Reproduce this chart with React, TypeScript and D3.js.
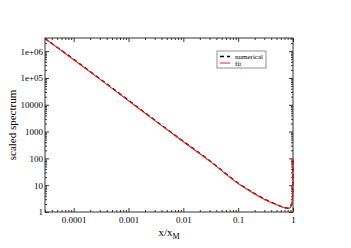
import React, { useEffect, useRef } from 'react';
import * as d3 from 'd3';

// x/x_M sample positions (log spaced, dense near x = 1)
const xValues = [3e-5, 1e-4, 3.16e-4, 1e-3, 3.16e-3, 0.01, 0.0316, 0.1, 0.2, 0.316, 0.5, 0.63, 0.8, 0.89, 0.93, 0.965, 0.985, 0.993, 0.997, 0.999, 1.0];
const numericalValues = [2.95e6, 5.0e5, 8.7e4, 1.48e4, 2500, 435, 77, 12.0, 4.9, 2.9, 1.92, 1.58, 1.4, 1.47, 1.9, 2.7, 4.2, 8.5, 21, 47, 100];
const fitValues = [2.95e6, 4.8e5, 8.3e4, 1.41e4, 2400, 417, 74, 11.5, 4.7, 2.8, 1.86, 1.55, 1.38, 1.45, 1.86, 2.6, 4.0, 8.0, 20, 45, 100];

const xTickValues = [1e-4, 1e-3, 1e-2, 1e-1, 1];
const xTickLabels = ["0.0001", "0.001", "0.01", "0.1", "1"];
const yTickValues = [1, 10, 100, 1000, 10000, 1e5, 1e6];
const yTickLabels = ["1", "10", "100", "1000", "10000", "1e+05", "1e+06"];

const width = 351;
const height = 248;
const margin = { top: 38, right: 58, bottom: 36, left: 45 };
const font = "'Liberation Serif', 'DejaVu Serif', serif";
const axisColor = "#333";

function minorTicks(lo: number, hi: number) {
  const out: number[] = [];
  for (let e = Math.floor(Math.log10(lo)); e <= Math.ceil(Math.log10(hi)); e++) {
    for (let m = 2; m <= 9; m++) {
      const v = m * Math.pow(10, e);
      if (v >= lo && v <= hi) out.push(v);
    }
  }
  return out;
}

export default function App() {
  const ref = useRef<SVGSVGElement>(null);

  useEffect(() => {
    const svg = d3.select(ref.current);
    svg.selectAll("*").remove();

    const x0 = margin.left, x1 = width - margin.right;
    const y0 = height - margin.bottom, y1 = margin.top;

    const scaleX = d3.scaleLog().domain([3e-5, 1]).range([x0, x1]);
    const scaleY = d3.scaleLog().domain([1, 3.1e6]).range([y0, y1]);

    const xMinor = minorTicks(3e-5, 1);
    const yMinor = minorTicks(1, 3.1e6);

    // ticks on all four sides, pointing inwards
    const addAxis = (axis: any, transform: string) => {
      const g = svg.append("g").attr("transform", transform).call(axis);
      g.select(".domain").remove();
      g.selectAll("line").attr("stroke", axisColor);
      g.selectAll("text").attr("font-family", font).attr("font-size", 9).attr("fill", "#000");
      return g;
    };

    // bottom
    addAxis(d3.axisBottom(scaleX).tickValues(xMinor).tickSize(-2).tickFormat(() => ""), `translate(0,${y0})`);
    const bx = addAxis(d3.axisBottom(scaleX).tickValues(xTickValues).tickSize(-4)
      .tickFormat((d, i) => xTickLabels[i]), `translate(0,${y0})`);
    bx.selectAll("text").attr("y", 5).attr("dy", "0.71em");
    // top
    addAxis(d3.axisTop(scaleX).tickValues(xMinor).tickSize(-2).tickFormat(() => ""), `translate(0,${y1})`);
    addAxis(d3.axisTop(scaleX).tickValues(xTickValues).tickSize(-4).tickFormat(() => ""), `translate(0,${y1})`);
    // left
    addAxis(d3.axisLeft(scaleY).tickValues(yMinor).tickSize(-2).tickFormat(() => ""), `translate(${x0},0)`);
    const ly = addAxis(d3.axisLeft(scaleY).tickValues(yTickValues).tickSize(-4)
      .tickFormat((d, i) => yTickLabels[i]), `translate(${x0},0)`);
    ly.selectAll("text").attr("x", -2);
    // right
    addAxis(d3.axisRight(scaleY).tickValues(yMinor).tickSize(-2).tickFormat(() => ""), `translate(${x1},0)`);
    addAxis(d3.axisRight(scaleY).tickValues(yTickValues).tickSize(-4).tickFormat(() => ""), `translate(${x1},0)`);

    // frame
    svg.append("rect")
      .attr("x", x0).attr("y", y1)
      .attr("width", x1 - x0).attr("height", y0 - y1)
      .attr("fill", "none").attr("stroke", axisColor).attr("stroke-width", 1);

    const line = (vals: number[]) => d3.line<number>()
      .x((d, i) => scaleX(xValues[i]))
      .y(d => scaleY(d))
      .curve(d3.curveMonotoneX)(vals);

    svg.append("path")
      .attr("d", line(numericalValues))
      .attr("fill", "none").attr("stroke", "#000")
      .attr("stroke-width", 1.3).attr("stroke-dasharray", "4,3");

    svg.append("path")
      .attr("d", line(fitValues))
      .attr("fill", "none").attr("stroke", "#e8201a")
      .attr("stroke-width", 1.1);

    // legend
    const lg = svg.append("g").attr("transform", "translate(217,51)");
    lg.append("rect").attr("width", 49).attr("height", 17)
      .attr("fill", "#fff").attr("stroke", "#777").attr("stroke-width", 0.8);
    lg.append("line").attr("x1", 3).attr("x2", 13).attr("y1", 5.5).attr("y2", 5.5)
      .attr("stroke", "#000").attr("stroke-width", 1.5).attr("stroke-dasharray", "4,3");
    lg.append("line").attr("x1", 3).attr("x2", 13).attr("y1", 12).attr("y2", 12)
      .attr("stroke", "#e8201a").attr("stroke-width", 1);
    lg.append("text").attr("x", 18).attr("y", 8).text("numerical")
      .attr("font-family", font).attr("font-size", 7);
    lg.append("text").attr("x", 18).attr("y", 14.5).text("fit")
      .attr("font-family", font).attr("font-size", 7);

    // axis labels
    const xl = svg.append("text")
      .attr("x", (x0 + x1) / 2).attr("y", 236)
      .attr("text-anchor", "middle")
      .attr("font-family", font).attr("font-size", 11);
    xl.append("tspan").text("x/x");
    xl.append("tspan").attr("dy", 3).attr("font-size", 8).text("M");

    svg.append("text")
      .attr("transform", `translate(16,${(y0 + y1) / 2}) rotate(-90)`)
      .attr("text-anchor", "middle")
      .attr("font-family", font).attr("font-size", 11)
      .text("scaled spectrum");
  }, []);

  return (
    <svg ref={ref} width={width} height={height}
      style={{ position: "absolute", left: 0, top: 0, background: "#fff" }} />
  );
}
